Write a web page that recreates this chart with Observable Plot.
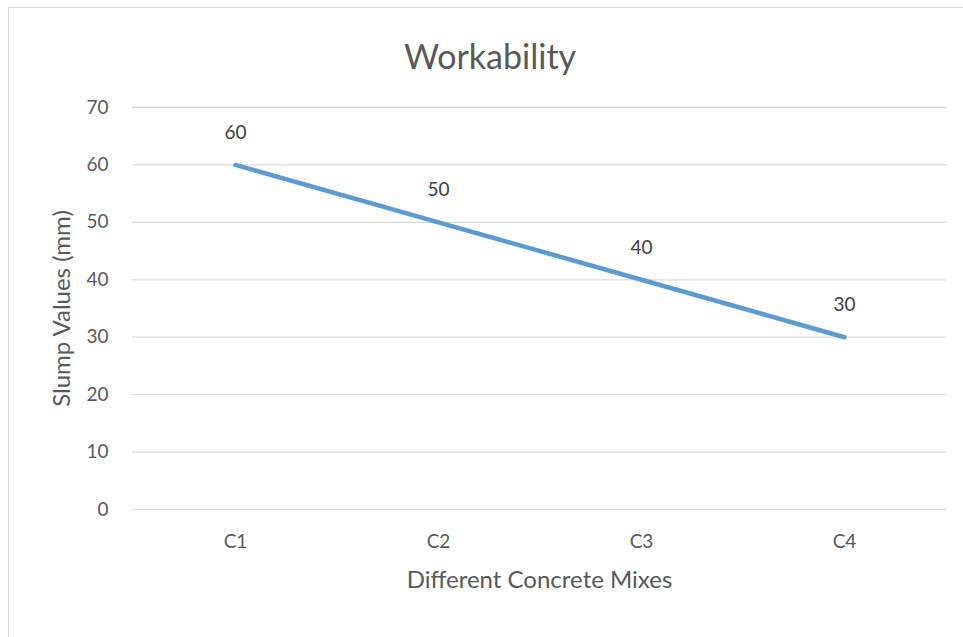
<!DOCTYPE html>
<html>
<head>
<meta charset="utf-8">
<script src="https://cdn.jsdelivr.net/npm/d3@7"></script>
<script src="https://cdn.jsdelivr.net/npm/@observablehq/plot@0.6"></script>
<style>
  html, body { margin: 0; padding: 0; background: #fff; overflow: hidden; }
  #wrap { position: relative; width: 963px; height: 637px; font-family: Lato, "Open Sans", sans-serif; }
  #frame { position: absolute; left: 8px; top: 7px; width: 1000px; height: 1000px; border: 1px solid #d9d9d9; box-sizing: border-box; }
  #title { position: absolute; left: 8px; width: 964px; top: 39px; line-height: 34px; font-size: 34px; text-align: center; color: #595959; }
  #chart { position: absolute; left: 0; top: 0; }
</style>
</head>
<body>
<div id="wrap">
  <div id="frame"></div>
  <div id="title">Workability</div>
  <div id="chart"></div>
</div>
<script>
const categories = ["C1", "C2", "C3", "C4"];
const slump = [60, 50, 40, 30];
const yTicks = [0, 10, 20, 30, 40, 50, 60, 70];
const xTitle = "Different Concrete Mixes";
const yTitle = "Slump Values (mm)";

const data = categories.map((c, i) => ({mix: c, value: slump[i]}));

const plot = Plot.plot({
  width: 963,
  height: 637,
  marginLeft: 132,
  marginRight: 17,
  marginTop: 107,
  marginBottom: 128,
  style: {background: "transparent", fontFamily: "Lato, 'Open Sans', sans-serif", fontSize: "19px", color: "#595959"},
  x: {type: "point", domain: categories, padding: 0.5, label: null},
  y: {domain: [0, 70], label: null},
  marks: [
    Plot.gridY(yTicks, {stroke: "#d9d9d9", strokeOpacity: 1, strokeWidth: 1.3}),
    Plot.axisY(yTicks, {tickSize: 0, tickPadding: 24, fontSize: 19, fill: "#595959", label: null}),
    Plot.axisX(categories, {tickSize: 0, tickPadding: 25, fontSize: 19, fill: "#595959", label: null}),
    Plot.text([xTitle], {frameAnchor: "bottom", dy: 71, lineAnchor: "middle", textAnchor: "middle", fontSize: 24, fill: "#595959"}),
    Plot.text([yTitle], {frameAnchor: "left", dx: -70, rotate: -90, lineAnchor: "middle", textAnchor: "middle", fontSize: 24, fill: "#595959"}),
    Plot.line(data, {x: "mix", y: "value", stroke: "#5B9BD5", strokeWidth: 4.5, strokeLinecap: "round"}),
    Plot.text(data, {x: "mix", y: "value", text: d => String(d.value), dy: -32, fontSize: 19, fill: "#404040"})
  ]
});
document.getElementById("chart").appendChild(plot);
</script>
</body>
</html>
